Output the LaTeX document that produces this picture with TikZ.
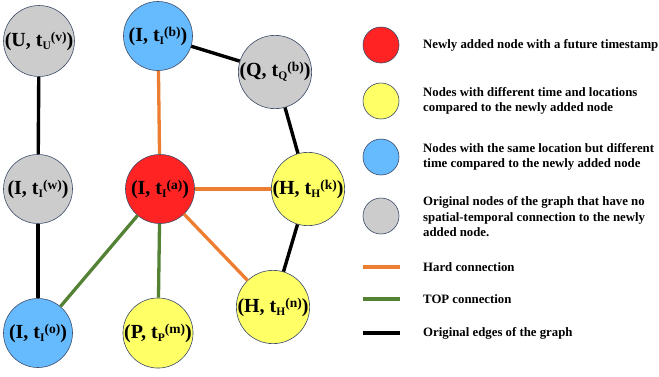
\documentclass[tikz,border=0pt]{standalone}
\usepackage{fontspec}
\setmainfont{Liberation Serif}
\definecolor{newred}{HTML}{FF2323}
\definecolor{diffyellow}{HTML}{FFFF66}
\definecolor{sameblue}{HTML}{66BBFF}
\definecolor{origgray}{HTML}{CCCCCC}
\definecolor{rim}{HTML}{3A4A68}
\definecolor{hardorange}{HTML}{ED7D31}
\definecolor{topgreen}{HTML}{548235}
% label (X, t_X^(y)) with subscript followed by superscript
\newcommand{\lbl}[3]{(#1, t\raisebox{-3pt}{\fontsize{11.5}{11.5}\selectfont #2}\raisebox{5pt}{\fontsize{13.5}{13.5}\selectfont (#3)})}
\begin{document}
\begin{tikzpicture}[x=1pt,y=-1pt,
  gnode/.style={circle, draw=rim, line width=0.6pt, minimum size=69pt, inner sep=0pt, font=\fontsize{20}{20}\selectfont\bfseries},
  lnode/.style={circle, draw=rim, line width=0.6pt, minimum size=36pt, inner sep=0pt},
  ltext/.style={anchor=west, align=left, inner sep=0pt, font=\fontsize{12.8}{15.5}\selectfont\bfseries},
  orig/.style={line width=3.4pt, black},
  hard/.style={line width=3.3pt, hardorange},
  topc/.style={line width=3.3pt, topgreen}]
\useasboundingbox (0,0) rectangle (659,376);

% Graph nodes
\node[gnode, fill=origgray]   (u)  at (39,41)   {\lbl{U}{U}{v}};
\node[gnode, fill=sameblue]   (ib) at (158,36)  {\lbl{I}{I}{b}};
\node[gnode, fill=origgray]   (q)  at (275,72)  {\lbl{Q}{Q}{b}};
\node[gnode, fill=origgray]   (iw) at (38,189)  {\lbl{I}{I}{w}};
\node[gnode, fill=newred]     (ia) at (160,189) {\lbl{I}{I}{a}};
\node[gnode, fill=diffyellow] (hk) at (308,189) {\lbl{H}{H}{k}};
\node[gnode, fill=diffyellow] (hn) at (273,307) {\lbl{H}{H}{n}};
\node[gnode, fill=sameblue]   (io) at (38,333)  {\lbl{I}{I}{o}};
\node[gnode, fill=diffyellow] (pm) at (158,333) {\lbl{P}{P}{m}};

% Edges
\draw[orig] (u) -- (iw);
\draw[orig] (iw) -- (io);
\draw[orig] (ib) -- (q);
\draw[orig] (q) -- (hk);
\draw[orig] (hk) -- (hn);
\draw[hard] (ia) -- (ib);
\draw[hard] (ia) -- (hk);
\draw[hard] (ia) -- (hn);
\draw[topc] (ia) -- (io);
\draw[topc] (ia) -- (pm);

% Legend
\node[lnode, fill=newred]     (lr) at (381,45)  {};
\node[lnode, fill=diffyellow] (ly) at (381,101) {};
\node[lnode, fill=sameblue]   (lb) at (381,157) {};
\node[lnode, fill=origgray]   (lg) at (381,216) {};
\node[ltext] (tr) at (423,45)  {Newly added node with a future timestamp};
\node[ltext] (ty) at (423,101) {Nodes with different time and locations\\compared to the newly added node};
\node[ltext] (tb) at (423,157) {Nodes with the same location but different\\time compared to the newly added node};
\node[ltext] (tg) at (423,217) {Original nodes of the graph that have no\\spatial-temporal connection to the newly\\added node.};

\foreach \sty/\yy/\txt in {hard/267/Hard connection, topc/299/TOP connection, orig/333/Original edges of the graph}{
  \coordinate (a\sty) at (363,\yy);
  \coordinate (b\sty) at (400,\yy);
  \draw[\sty] (a\sty) -- (b\sty);
  \node[ltext] (t\sty) at (423,\yy) {\txt};
}
\end{tikzpicture}
\end{document}
